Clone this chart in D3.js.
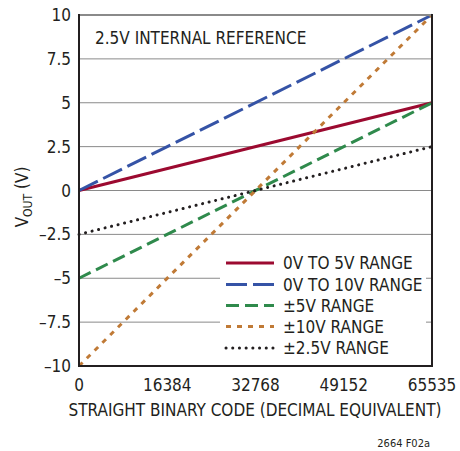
<!DOCTYPE html>
<html><head><meta charset="utf-8">
<script src="https://cdn.jsdelivr.net/npm/d3@7"></script>
<style>
body{margin:0;background:#fff;}
svg text{font-family:"Liberation Sans Narrow","DejaVu Sans Condensed","Arial Narrow",sans-serif;fill:#231f20;}
</style></head>
<body><svg id="c" width="460" height="451"></svg>
<script>
const codeDomain = [0, 65535];
const xTicks = [0, 16384, 32768, 49152, 65535];
const yTicks = [-10, -7.5, -5, -2.5, 0, 2.5, 5, 7.5, 10];
const yTickLabels = ["\u201310", "\u20137.5", "\u20135", "\u20132.5", "0", "2.5", "5", "7.5", "10"];
const seriesNames = ["0V TO 5V RANGE", "0V TO 10V RANGE", "\u00b15V RANGE", "\u00b110V RANGE", "\u00b12.5V RANGE"];
const seriesStart = [0, 0, -5, -10, -2.5];
const seriesEnd = [5, 10, 5, 10, 2.5];
const colors = ["#9c0a30", "#3553a6", "#2f8a4c", "#c07a36", "#231f20"];
const dashes = [null, "21 6", "13 6", "5 6", "0.1 6.6"];
const widths = [3, 3, 3, 3, 3];
const caps = ["butt", "butt", "butt", "butt", "round"];

const svg = d3.select("#c");
const L = 79, R = 432, T = 15, B = 366;
const x = d3.scaleLinear().domain(codeDomain).range([L, R]);
const y = d3.scaleLinear().domain([-10, 10]).range([B, T]);

// gridlines
const legX = 220, legTop = 237;
yTicks.forEach(v => {
  if (v === 10 || v === -10) return;
  const yy = y(v);
  if (yy > legTop) {
    svg.append("line").attr("x1", L).attr("x2", legX).attr("y1", yy).attr("y2", yy)
      .attr("stroke", "#8a8a8a").attr("stroke-width", 1);
    svg.append("line").attr("x1", R - 6).attr("x2", R).attr("y1", yy).attr("y2", yy)
      .attr("stroke", "#8a8a8a").attr("stroke-width", 1);
  } else {
    svg.append("line").attr("x1", L).attr("x2", R).attr("y1", yy).attr("y2", yy)
      .attr("stroke", "#8a8a8a").attr("stroke-width", 1);
  }
});

// series
const lineGen = d3.line().x(d => x(d[0])).y(d => y(d[1]));
seriesNames.forEach((n, i) => {
  const data = [[codeDomain[0], seriesStart[i]], [codeDomain[1], seriesEnd[i]]];
  svg.append("path").attr("d", lineGen(data)).attr("fill", "none")
    .attr("stroke", colors[i]).attr("stroke-width", widths[i])
    .attr("stroke-dasharray", dashes[i]).attr("stroke-linecap", caps[i]);
});

// frame
svg.append("line").attr("x1", L).attr("x2", R).attr("y1", T).attr("y2", T).attr("stroke", "#8a8a8a").attr("stroke-width", 2);
svg.append("line").attr("x1", L).attr("x2", L).attr("y1", T - 1).attr("y2", B + 1).attr("stroke", "#231f20").attr("stroke-width", 2);
svg.append("line").attr("x1", R).attr("x2", R).attr("y1", T - 1).attr("y2", B + 1).attr("stroke", "#231f20").attr("stroke-width", 2);
svg.append("line").attr("x1", L - 1).attr("x2", R + 1).attr("y1", B).attr("y2", B).attr("stroke", "#231f20").attr("stroke-width", 2);

// y tick labels
yTicks.forEach((v, i) => {
  svg.append("text").attr("x", 71).attr("y", y(v)).attr("dy", "0.36em")
    .attr("text-anchor", "end").attr("font-size", 17).text(yTickLabels[i]);
});
// x tick labels
xTicks.forEach(v => {
  svg.append("text").attr("x", x(v)).attr("y", 391).attr("text-anchor", "middle")
    .attr("font-size", 17).text(v);
});

// axis titles
svg.append("text").attr("x", 255).attr("y", 416).attr("text-anchor", "middle")
  .attr("font-size", 17).text("STRAIGHT BINARY CODE (DECIMAL EQUIVALENT)");
const yt = svg.append("text").attr("transform", "translate(28,197) rotate(-90)")
  .attr("text-anchor", "middle").attr("font-size", 17);
yt.append("tspan").text("V");
yt.append("tspan").attr("font-size", 12).attr("dy", 4).text("OUT");
yt.append("tspan").attr("dy", -4).text(" (V)");

// inner title
svg.append("text").attr("x", 95).attr("y", 44).attr("font-size", 17).text("2.5V INTERNAL REFERENCE");

// legend
const rowY = [263, 284.5, 305.5, 326.5, 348];
seriesNames.forEach((n, i) => {
  svg.append("line").attr("x1", 226).attr("x2", 274).attr("y1", rowY[i]).attr("y2", rowY[i])
    .attr("stroke", colors[i]).attr("stroke-width", widths[i])
    .attr("stroke-dasharray", dashes[i]).attr("stroke-linecap", caps[i]);
  svg.append("text").attr("x", 283).attr("y", rowY[i]).attr("dy", "0.36em")
    .attr("font-size", 17).text(n);
});

svg.append("text").attr("x", 430).attr("y", 447).attr("text-anchor", "end")
  .attr("font-size", 11).text("2664 F02a");
</script></body></html>
